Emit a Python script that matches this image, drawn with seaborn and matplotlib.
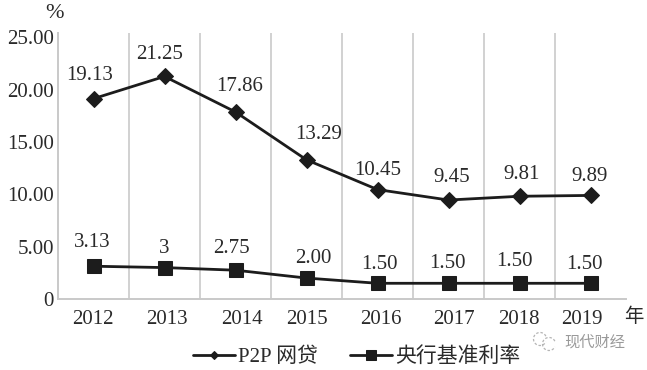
import matplotlib
matplotlib.use("Agg")
import matplotlib.pyplot as plt
from matplotlib.patches import Arc
from matplotlib.transforms import ScaledTranslation
import pandas as pd
import seaborn as sns

years = ["2012", "2013", "2014", "2015", "2016", "2017", "2018", "2019"]
p2p_values = [19.13, 21.25, 17.86, 13.29, 10.45, 9.45, 9.81, 9.89]
base_values = [3.13, 3.00, 2.75, 2.00, 1.50, 1.50, 1.50, 1.50]
p2p_labels = ["19.13", "21.25", "17.86", "13.29", "10.45", "9.45", "9.81", "9.89"]
base_labels = ["3.13", "3", "2.75", "2.00", "1.50", "1.50", "1.50", "1.50"]
y_ticks = [0, 5, 10, 15, 20, 25]
y_tick_labels = ["0", "5.00", "10.00", "15.00", "20.00", "25.00"]
p2p_name = "P2P 网贷"
base_name = "央行基准利率"

# label offsets in pixels
p2p_offsets = [(-4, 23), (-5, 22), (4, 25), (12, 25), (0, 19), (3, 23), (2, 22), (-1, 19)]
base_offsets = [(-1, 24), (0, 19), (-4, 22), (7, 20), (2, 19), (-1, 20), (-5, 22), (-6, 19)]
tick_shift = [-1, 2, 6, 0, 3, 5, -1, -9]

sns.set_theme(style="white")
plt.rcParams["font.family"] = ["Liberation Serif", "Noto Sans CJK SC", "DejaVu Sans"]

W, H = 647, 370
INK = "#1c1c1c"
GRID = "#c9c9c9"
TXT = "#2a2a2a"
px = 72 / 100

fig = plt.figure(figsize=(W / 100, H / 100), dpi=100, facecolor="white")
ax = fig.add_axes([58 / W, 1 - 299 / H, (626 - 58) / W, (299 - 33) / H])

positions = list(range(len(years)))
df_p2p = pd.DataFrame({"x": positions, "y": p2p_values})
df_base = pd.DataFrame({"x": positions, "y": base_values})
sns.lineplot(data=df_p2p, x="x", y="y", ax=ax, color=INK, lw=2.0, marker="D",
             markersize=8.0, markeredgecolor=INK, label=p2p_name, clip_on=False)
sns.lineplot(data=df_base, x="x", y="y", ax=ax, color=INK, lw=2.0, marker="s",
             markersize=10, markeredgecolor=INK, label=base_name, clip_on=False)

ax.set_xlim(-0.5, 7.5)
ax.set_ylim(0, 25.4)
ax.set_xlabel("")
ax.set_ylabel("")

ax.set_yticks(y_ticks)
ax.set_yticklabels(y_tick_labels, fontsize=15, color=TXT)
ax.set_xticks(positions)
ax.set_xticklabels(years, fontsize=15, color=TXT)
ax.tick_params(axis="both", length=0)
ax.tick_params(axis="x", pad=8)
ax.tick_params(axis="y", pad=3)
for lab, dx in zip(ax.get_xticklabels(), tick_shift):
    lab.set_transform(lab.get_transform() + ScaledTranslation(dx / 100, 0, fig.dpi_scale_trans))

for i in range(1, len(years)):
    ax.axvline(i - 0.5, color=GRID, lw=1.2, zorder=0)
for side in ("top", "right"):
    ax.spines[side].set_visible(False)
for side in ("left", "bottom"):
    ax.spines[side].set_color(GRID)
    ax.spines[side].set_linewidth(1.4)

for xs, ys, labs, offs in ((positions, p2p_values, p2p_labels, p2p_offsets),
                           (positions, base_values, base_labels, base_offsets)):
    for x, y, t, (dx, dy) in zip(xs, ys, labs, offs):
        ax.annotate(t, (x, y), xytext=(dx * px, dy * px), textcoords="offset points",
                    ha="center", va="center", fontsize=15, color=TXT)

fig.text(55 / W, 1 - 13 / H, "%", fontsize=16, color=TXT, ha="center", va="center")
fig.text(634 / W, 1 - 317 / H, "年", fontsize=14, color=TXT, ha="center", va="center")
fig.text(595 / W, 1 - 342 / H, "现代财经", fontsize=11, color="#9a9a9a", ha="center", va="center")

# watermark icon: two loose dashed speech-bubble outlines
for cx, cy, d in ((540, 339, 13), (549, 344, 13)):
    fig.add_artist(Arc((cx / W, 1 - cy / H), d / W, d / H, transform=fig.transFigure,
                       theta1=40, theta2=320, color="#b5b5b5", lw=0.9, ls=(0, (2, 1.5))))

handles, labels = ax.get_legend_handles_labels()
leg = ax.legend(handles, labels, ncol=2, frameon=False, fontsize=15,
                loc="center left", bbox_to_anchor=(193 / W, 1 - 357 / H),
                bbox_transform=fig.transFigure, borderaxespad=0, borderpad=0,
                handlelength=2.0, handletextpad=0.15, columnspacing=1.55,
                labelcolor=TXT)
for h, size in zip(leg.legend_handles, (4.5, 7.5)):
    h.set_markersize(size)

fig.savefig("out.png", dpi=100, facecolor="white")
